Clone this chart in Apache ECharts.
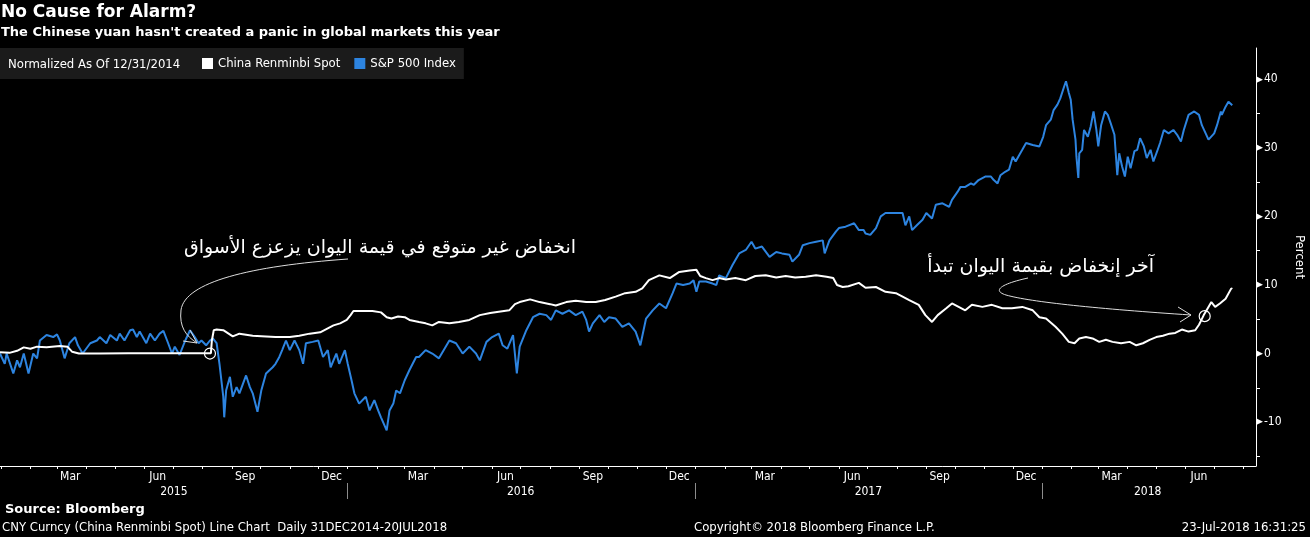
<!DOCTYPE html>
<html>
<head>
<meta charset="utf-8">
<script src="https://cdn.jsdelivr.net/npm/echarts@6/dist/echarts.min.js"></script>
<style>
  html, body { margin: 0; padding: 0; background: #000; }
  #chart { width: 1310px; height: 537px; }
</style>
</head>
<body>
<div id="chart"></div>
<script>
// CNY (inverted: USD/CNY) normalized as of 12/31/2014, percent
const cnyDates = [
  "2014-12-31","2015-01-10","2015-01-18","2015-01-25","2015-02-01","2015-02-08","2015-02-18","2015-03-04",
  "2015-03-12","2015-03-17","2015-03-24","2015-04-15","2015-05-15","2015-06-15","2015-07-15","2015-08-10",
  "2015-08-11","2015-08-13","2015-08-16","2015-08-23","2015-09-02","2015-09-09","2015-09-23","2015-10-07",
  "2015-10-17","2015-11-01","2015-11-11","2015-11-22","2015-12-03","2015-12-10","2015-12-17","2015-12-24",
  "2015-12-31","2016-01-04","2016-01-07","2016-01-13","2016-01-27","2016-02-05","2016-02-11","2016-02-16",
  "2016-02-23","2016-03-01","2016-03-06","2016-03-16","2016-03-23","2016-03-30","2016-04-06","2016-04-17",
  "2016-04-27","2016-05-08","2016-05-19","2016-05-30","2016-06-08","2016-06-19","2016-06-25","2016-06-30",
  "2016-07-11","2016-07-21","2016-08-01","2016-08-07","2016-08-18","2016-08-28","2016-09-08","2016-09-18",
  "2016-09-28","2016-10-09","2016-10-19","2016-10-30","2016-11-06","2016-11-13","2016-11-24","2016-12-05",
  "2016-12-15","2016-12-26","2017-01-02","2017-01-06","2017-01-12","2017-01-19","2017-01-26","2017-02-02",
  "2017-02-12","2017-02-23","2017-03-05","2017-03-16","2017-03-27","2017-04-06","2017-04-16","2017-04-27",
  "2017-05-08","2017-05-19","2017-05-26","2017-05-30","2017-06-05","2017-06-11","2017-06-22","2017-06-29",
  "2017-07-10","2017-07-20","2017-07-31","2017-08-07","2017-08-14","2017-08-24","2017-08-31","2017-09-07",
  "2017-09-13","2017-09-22","2017-09-28","2017-10-05","2017-10-12","2017-10-19","2017-10-30","2017-11-09",
  "2017-11-20","2017-11-30","2017-12-11","2017-12-22","2017-12-29","2018-01-05","2018-01-15","2018-01-22",
  "2018-01-29","2018-02-04","2018-02-09","2018-02-16","2018-02-23","2018-03-02","2018-03-09","2018-03-16",
  "2018-03-25","2018-04-03","2018-04-10","2018-04-17","2018-04-24","2018-05-01","2018-05-08","2018-05-15",
  "2018-05-21","2018-05-28","2018-06-04","2018-06-11","2018-06-15","2018-06-20","2018-06-25","2018-06-28",
  "2018-07-02","2018-07-07","2018-07-13","2018-07-19","2018-07-20"
];
const cnyValues = [
  0.2, 0.1, 0.4, 0.9, 0.7, 1.0, 0.9, 1.1,
  1.0, 0.25, 0.0, 0.0, 0.05, 0.05, 0.05, 0.05,
  1.9, 3.4, 3.5, 3.4, 2.5, 2.9, 2.6, 2.5,
  2.4, 2.4, 2.6, 2.9, 3.1, 3.6, 4.1, 4.4,
  4.9, 5.6, 6.2, 6.2, 6.2, 6.0, 5.3, 5.1,
  5.4, 5.3, 4.9, 4.6, 4.4, 4.1, 4.6, 4.4,
  4.6, 4.9, 5.6, 5.9, 6.1, 6.3, 7.2, 7.5,
  7.9, 7.5, 7.2, 7.0, 7.5, 7.7, 7.5, 7.5,
  7.8, 8.3, 8.8, 9.0, 9.5, 10.7, 11.4, 11.0,
  11.9, 12.1, 12.2, 11.3, 11.0, 10.7, 11.0, 10.8,
  11.0, 10.7, 11.3, 11.4, 11.1, 11.3, 11.1, 11.2,
  11.4, 11.2, 11.0, 10.0, 9.7, 9.8, 10.3, 9.6,
  9.7, 9.0, 8.8, 8.3, 7.8, 7.1, 5.6, 4.6,
  5.6, 6.6, 7.3, 6.8, 6.3, 7.1, 6.8, 7.1,
  6.6, 6.6, 6.8, 6.3, 5.3, 5.1, 3.9, 2.9,
  1.7, 1.5, 2.2, 2.4, 2.2, 1.7, 2.0, 1.7,
  1.5, 1.7, 1.2, 1.5, 2.0, 2.4, 2.6, 2.9,
  3.0, 3.5, 3.2, 3.4, 4.2, 5.6, 6.8, 7.5,
  6.8, 7.3, 8.0, 9.5, 9.4
];

// S&P 500 normalized as of 12/31/2014, percent
const spxDates = [
  "2014-12-31","2015-01-05","2015-01-07","2015-01-14","2015-01-18","2015-01-21","2015-01-25","2015-01-30",
  "2015-02-04","2015-02-08","2015-02-11","2015-02-18","2015-02-25","2015-03-01","2015-03-04","2015-03-09",
  "2015-03-14","2015-03-20","2015-03-23","2015-03-28","2015-04-05","2015-04-12","2015-04-15","2015-04-22",
  "2015-04-26","2015-05-03","2015-05-06","2015-05-11","2015-05-17","2015-05-20","2015-05-24","2015-05-27",
  "2015-06-03","2015-06-07","2015-06-12","2015-06-17","2015-06-21","2015-06-26","2015-06-30","2015-07-03",
  "2015-07-08","2015-07-14","2015-07-19","2015-07-24","2015-07-28","2015-07-31","2015-08-05","2015-08-09",
  "2015-08-12","2015-08-16","2015-08-19","2015-08-23","2015-08-24","2015-08-26","2015-08-30","2015-09-02",
  "2015-09-06","2015-09-09","2015-09-16","2015-09-20","2015-09-23","2015-09-28","2015-10-02","2015-10-07",
  "2015-10-14","2015-10-17","2015-10-21","2015-10-24","2015-10-28","2015-11-01","2015-11-06","2015-11-11",
  "2015-11-15","2015-11-18","2015-11-25","2015-12-01","2015-12-06","2015-12-11","2015-12-14","2015-12-20",
  "2015-12-23","2015-12-29","2016-01-01","2016-01-05","2016-01-08","2016-01-13","2016-01-20","2016-01-24",
  "2016-01-29","2016-02-02","2016-02-05","2016-02-11","2016-02-14","2016-02-18","2016-02-21","2016-02-25",
  "2016-03-01","2016-03-06","2016-03-13","2016-03-16","2016-03-23","2016-03-30","2016-04-06","2016-04-17",
  "2016-04-24","2016-05-01","2016-05-08","2016-05-15","2016-05-19","2016-05-26","2016-06-01","2016-06-08",
  "2016-06-12","2016-06-17","2016-06-23","2016-06-27","2016-06-30","2016-07-07","2016-07-14","2016-07-21",
  "2016-07-28","2016-08-02","2016-08-07","2016-08-14","2016-08-21","2016-08-28","2016-09-04","2016-09-08",
  "2016-09-11","2016-09-15","2016-09-22","2016-09-27","2016-10-02","2016-10-09","2016-10-16","2016-10-23",
  "2016-10-30","2016-11-04","2016-11-10","2016-11-17","2016-11-24","2016-12-01","2016-12-08","2016-12-12",
  "2016-12-19","2016-12-26","2016-12-30","2017-01-02","2017-01-05","2017-01-12","2017-01-19","2017-01-23",
  "2017-01-26","2017-02-02","2017-02-09","2017-02-16","2017-02-23","2017-03-01","2017-03-05","2017-03-12",
  "2017-03-20","2017-03-27","2017-04-02","2017-04-10","2017-04-13","2017-04-20","2017-04-24","2017-05-01",
  "2017-05-08","2017-05-15","2017-05-17","2017-05-22","2017-05-29","2017-06-01","2017-06-08","2017-06-17",
  "2017-06-22","2017-06-27","2017-06-29","2017-07-04","2017-07-10","2017-07-15","2017-07-20","2017-07-27",
  "2017-08-03","2017-08-07","2017-08-10","2017-08-14","2017-08-17","2017-08-22","2017-08-28","2017-09-01",
  "2017-09-07","2017-09-11","2017-09-18","2017-09-25","2017-09-28","2017-10-04","2017-10-07","2017-10-12",
  "2017-10-18","2017-10-21","2017-10-26","2017-11-02","2017-11-08","2017-11-11","2017-11-15","2017-11-18",
  "2017-11-23","2017-11-27","2017-12-01","2017-12-04","2017-12-08","2017-12-11","2017-12-15","2017-12-22",
  "2017-12-29","2018-01-02","2018-01-05","2018-01-10","2018-01-13","2018-01-17","2018-01-20","2018-01-24",
  "2018-01-26","2018-01-29","2018-01-31","2018-02-02","2018-02-05","2018-02-06","2018-02-08","2018-02-09",
  "2018-02-12","2018-02-14","2018-02-18","2018-02-21","2018-02-24","2018-02-27","2018-03-01","2018-03-04",
  "2018-03-08","2018-03-11","2018-03-14","2018-03-18","2018-03-21","2018-03-23","2018-03-26","2018-03-29",
  "2018-04-01","2018-04-04","2018-04-08","2018-04-11","2018-04-14","2018-04-18","2018-04-21","2018-04-25",
  "2018-04-28","2018-05-02","2018-05-05","2018-05-09","2018-05-14","2018-05-19","2018-05-23","2018-05-27",
  "2018-05-30","2018-06-04","2018-06-10","2018-06-15","2018-06-18","2018-06-22","2018-06-25","2018-07-01",
  "2018-07-04","2018-07-08","2018-07-09","2018-07-13","2018-07-16","2018-07-20"
];
const spxValues = [
  0.0, -1.5, 0.0, -2.9, -1.0, -2.0, 0.0, -2.9,
  0.0, -0.7, 1.9, 2.7, 2.4, 2.8, 1.9, -0.7,
  1.5, 2.4, 1.2, 0.0, 1.5, 1.9, 2.4, 1.5,
  2.7, 1.9, 2.9, 1.9, 3.4, 3.5, 2.4, 3.2,
  1.5, 2.9, 1.9, 2.9, 3.3, 1.5, 0.0, 1.0,
  -0.2, 1.9, 3.4, 2.4, 1.5, 1.9, 1.2, 1.9,
  2.2, 1.5, -1.5, -6.3, -9.3, -5.4, -3.4, -6.3,
  -4.9, -5.8, -3.2, -4.9, -5.8, -8.5, -5.4, -2.9,
  -2.0, -1.5, -0.5, 0.5, 1.9, 0.5, 1.9, 0.5,
  -1.5, 1.5, 1.7, 1.9, -0.5, 0.5, -2.0, 0.0,
  -1.5, 0.5, -1.5, -3.9, -5.8, -7.3, -6.3, -8.3,
  -6.8, -8.3, -9.3, -11.2, -8.3, -7.3, -5.4, -5.8,
  -3.9, -2.4, -0.5, -0.5, 0.5, 0.0, -0.7, 1.9,
  1.5, 0.0, 1.0, 0.0, -1.0, 1.7, 2.4, 2.9,
  1.2, 0.7, 2.7, -2.9, 1.0, 3.4, 5.3, 5.8,
  5.6, 4.9, 6.3, 5.8, 6.3, 5.6, 6.1, 4.9,
  3.2, 4.4, 5.6, 4.6, 5.3, 5.1, 3.9, 4.4,
  3.2, 1.2, 5.1, 6.3, 7.3, 6.6, 8.8, 10.2,
  10.0, 10.2, 10.7, 9.0, 10.5, 10.5, 10.2, 10.0,
  11.4, 11.0, 12.9, 14.6, 15.1, 16.3, 15.3, 15.6,
  14.1, 14.8, 14.6, 14.4, 13.4, 14.4, 15.8, 16.1,
  16.3, 16.5, 14.6, 16.5, 17.8, 18.3, 18.5, 19.0,
  18.0, 18.0, 17.5, 17.3, 18.3, 20.0, 20.5, 20.5,
  20.5, 20.5, 18.7, 20.0, 18.0, 18.7, 19.5, 20.5,
  19.7, 21.7, 21.9, 21.4, 22.4, 23.6, 24.3, 24.3,
  24.8, 24.6, 25.3, 25.8, 25.8, 25.3, 24.8, 26.0,
  26.5, 26.8, 28.7, 28.0, 29.0, 29.7, 30.7, 30.4,
  30.2, 31.6, 33.3, 34.1, 35.5, 36.3, 37.2, 38.9,
  39.7, 38.0, 37.0, 34.1, 31.2, 28.7, 25.6, 29.2,
  29.7, 32.6, 31.6, 33.1, 35.3, 32.6, 30.2, 33.3,
  35.3, 34.8, 33.6, 31.9, 26.0, 29.2, 27.3, 25.8,
  28.7, 27.0, 29.5, 29.7, 31.4, 30.2, 28.5, 29.7,
  28.0, 29.5, 30.7, 32.6, 32.1, 32.6, 31.9, 30.9,
  32.6, 34.8, 35.3, 34.8, 33.3, 32.1, 31.2, 32.1,
  33.3, 35.3, 34.8, 36.0, 36.7, 36.2
];

// axis labels
const monthNames = ["Jan","Feb","Mar","Apr","May","Jun","Jul","Aug","Sep","Oct","Nov","Dec"];
const monthLabelDates = [
  "2015-03-15","2015-06-15","2015-09-15","2015-12-15",
  "2016-03-15","2016-06-15","2016-09-15","2016-12-15",
  "2017-03-15","2017-06-15","2017-09-15","2017-12-15",
  "2018-03-15","2018-06-15"
];
const yearLabelDates = ["2015-07-02","2016-07-01","2017-07-02","2018-04-22"];
const yearBreakDates = ["2016-01-01","2017-01-01","2018-01-01"];
const yMajorTicks = [-10, 0, 10, 20, 30, 40];
const yMinorTicks = [-15, -5, 5, 15, 25, 35];

// month boundaries for the small ticks
const monthTickDates = [];
for (let y = 2015; y <= 2018; y++) {
  for (let m = 1; m <= 12; m++) {
    if (y === 2018 && m > 8) break;
    monthTickDates.push(y + "-" + (m < 10 ? "0" + m : m) + "-01");
  }
}

const toTime = (d) => echarts.time.parse(d).getTime();
const font = "'DejaVu Sans Condensed', 'DejaVu Sans', sans-serif";
const arFont = "'DejaVu Sans', 'Noto Sans', sans-serif";
const xMin = toTime("2014-12-31");
const xMax = toTime("2018-08-14");
const arrowStyle = { fill: "none", stroke: "#dddddd", lineWidth: 1 };

const chart = echarts.init(document.getElementById("chart"), null, { renderer: "canvas" });

const option = {
  backgroundColor: "#000000",
  animation: false,
  title: {
    left: 1,
    top: 4,
    text: "No Cause for Alarm?",
    subtext: "The Chinese yuan hasn't created a panic in global markets this year",
    itemGap: 5,
    padding: 0,
    textStyle: { color: "#ffffff", fontSize: 17, fontWeight: "bold", fontFamily: "'DejaVu Sans', sans-serif" },
    subtextStyle: { color: "#ffffff", fontSize: 13, fontWeight: "bold", fontFamily: "'DejaVu Sans', sans-serif" }
  },
  legend: {
    left: 0,
    top: 48,
    padding: [9, 8, 9, 202],
    backgroundColor: "#1b1b1b",
    icon: "rect",
    itemWidth: 11,
    itemHeight: 11,
    itemGap: 14,
    textStyle: { color: "#ffffff", fontSize: 13, fontFamily: font },
    data: ["China Renminbi Spot", "S&P 500 Index"]
  },
  grid: { left: 0, right: 54, top: 48, bottom: 71, outerBoundsMode: "none", containLabel: false },
  xAxis: [
    {
      type: "value",
      min: xMin,
      max: xMax,
      axisLine: { onZero: false, lineStyle: { color: "#ffffff", width: 1 } },
      axisTick: { customValues: monthTickDates.map(toTime), length: 3, lineStyle: { color: "#ffffff" } },
      axisLabel: {
        customValues: monthLabelDates.map(toTime),
        margin: 5,
        color: "#ffffff",
        fontSize: 12,
        fontFamily: font,
        formatter: function (v) { return monthNames[new Date(v).getMonth()]; }
      },
      splitLine: { show: false }
    },
    {
      type: "value",
      min: xMin,
      max: xMax,
      position: "bottom",
      offset: 17,
      axisLine: { show: false, onZero: false },
      axisTick: { customValues: yearBreakDates.map(toTime), length: 16, lineStyle: { color: "#8c8c8c" } },
      axisLabel: {
        customValues: yearLabelDates.map(toTime),
        margin: 3,
        color: "#ffffff",
        fontSize: 12,
        fontFamily: font,
        formatter: function (v) { return String(new Date(v).getFullYear()); }
      },
      splitLine: { show: false }
    }
  ],
  yAxis: {
    type: "value",
    position: "right",
    min: -16.4,
    max: 44.55,
    name: "Percent",
    nameLocation: "middle",
    nameRotate: -90,
    nameGap: 37,
    nameTextStyle: { color: "#ffffff", fontSize: 13, fontFamily: font },
    axisLine: { show: true, onZero: false, lineStyle: { color: "#ffffff", width: 1 } },
    axisTick: { show: true, customValues: yMinorTicks, length: 4, lineStyle: { color: "#ffffff" } },
    axisLabel: {
      customValues: yMajorTicks,
      margin: 0,
      formatter: function (v) { return "{t|\u25B6}{n|" + v + "}"; },
      rich: {
        t: { color: "#ffffff", fontSize: 9, padding: [0, 1, 0, 0], fontFamily: "'DejaVu Sans', sans-serif" },
        n: { color: "#ffffff", fontSize: 12, fontFamily: font }
      }
    },
    splitLine: { show: false }
  },
  series: [
    {
      name: "China Renminbi Spot",
      type: "line",
      xAxisIndex: 0,
      z: 3,
      showSymbol: false,
      color: "#ffffff",
      lineStyle: { color: "#ffffff", width: 2 },
      data: cnyDates.map((d, i) => [toTime(d), cnyValues[i]]),
      markPoint: {
        symbol: "circle",
        symbolSize: 11,
        silent: true,
        label: { show: false },
        itemStyle: { color: "rgba(0,0,0,0)", borderColor: "#ffffff", borderWidth: 1.2 },
        data: [
          { coord: [toTime("2015-08-09"), 0] },
          { coord: [toTime("2018-06-21"), 5.45] }
        ]
      }
    },
    {
      name: "S&P 500 Index",
      type: "line",
      xAxisIndex: 0,
      z: 2,
      showSymbol: false,
      color: "#2d84e0",
      lineStyle: { color: "#2d84e0", width: 2 },
      data: spxDates.map((d, i) => [toTime(d), spxValues[i]])
    }
  ],
  graphic: [
    {
      type: "text", z: 100, x: 8, y: 65,
      style: { text: "Normalized As Of 12/31/2014", fill: "#ffffff", font: "13px " + font, verticalAlign: "middle" }
    },
    // annotation 1
    {
      type: "text", z: 100, x: 576, y: 248,
      style: { text: "انخفاض غير متوقع في قيمة اليوان يزعزع الأسواق", fill: "#ffffff", font: "19px " + arFont, align: "right", verticalAlign: "middle" }
    },
    {
      type: "bezierCurve", z: 100,
      shape: { x1: 348, y1: 259, cpx1: 250, cpy1: 266, cpx2: 185, cpy2: 282, x2: 181, y2: 310 },
      style: arrowStyle
    },
    {
      type: "bezierCurve", z: 100,
      shape: { x1: 181, y1: 310, cpx1: 179, cpy1: 327, cpx2: 186, cpy2: 336, x2: 197, y2: 343 },
      style: arrowStyle
    },
    {
      type: "polyline", z: 100,
      shape: { points: [[190, 330], [197, 343], [183, 341]] },
      style: arrowStyle
    },
    // annotation 2
    {
      type: "text", z: 100, x: 1154, y: 267,
      style: { text: "آخر إنخفاض بقيمة اليوان تبدأ", fill: "#ffffff", font: "19px " + arFont, align: "right", verticalAlign: "middle" }
    },
    {
      type: "bezierCurve", z: 100,
      shape: { x1: 1028, y1: 278, cpx1: 1005, cpy1: 283, cpx2: 990, cpy2: 290, x2: 1006, y2: 295 },
      style: arrowStyle
    },
    {
      type: "bezierCurve", z: 100,
      shape: { x1: 1006, y1: 295, cpx1: 1030, cpy1: 302, cpx2: 1100, cpy2: 309, x2: 1191, y2: 315 },
      style: arrowStyle
    },
    {
      type: "polyline", z: 100,
      shape: { points: [[1178, 307], [1191, 315], [1180, 322]] },
      style: arrowStyle
    },
    // footer
    {
      type: "text", z: 100, x: 5, y: 510,
      style: { text: "Source: Bloomberg", fill: "#ffffff", font: "bold 13px 'DejaVu Sans', sans-serif", verticalAlign: "middle" }
    },
    {
      type: "text", z: 100, x: 2, y: 528,
      style: { text: "CNY Curncy (China Renminbi Spot) Line Chart  Daily 31DEC2014-20JUL2018", fill: "#ffffff", font: "13px " + font, verticalAlign: "middle" }
    },
    {
      type: "text", z: 100, x: 694, y: 528,
      style: { text: "Copyright\u00A9 2018 Bloomberg Finance L.P.", fill: "#ffffff", font: "13px " + font, verticalAlign: "middle" }
    },
    {
      type: "text", z: 100, x: 1306, y: 528,
      style: { text: "23-Jul-2018 16:31:25", fill: "#ffffff", font: "13px " + font, align: "right", verticalAlign: "middle" }
    }
  ]
};

chart.setOption(option);
</script>
</body>
</html>
